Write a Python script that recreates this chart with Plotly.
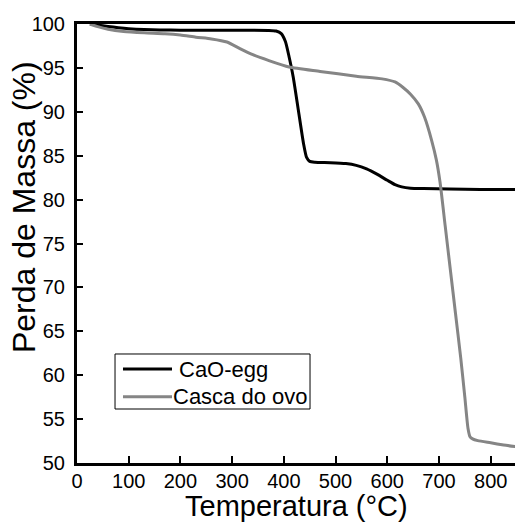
import plotly.graph_objects as go

# Thermogravimetric curves: mass (%) versus temperature (°C)
temp_cao = [25, 40, 60, 80, 100, 130, 160, 200, 300, 370, 385, 395, 403, 410, 418,
            428, 438, 444, 450, 460, 490, 520, 540, 560, 580, 600, 615, 628, 645,
            670, 720, 780, 850]
mass_cao = [100.0, 99.88, 99.72, 99.58, 99.47, 99.37, 99.32, 99.3, 99.28, 99.27, 99.2,
            98.9, 98.0, 96.3, 94.0, 90.2, 86.4, 84.8, 84.35, 84.25, 84.2, 84.1, 83.9,
            83.5, 82.9, 82.2, 81.7, 81.45, 81.3, 81.25, 81.2, 81.15, 81.15]

temp_casca = [25, 40, 60, 90, 130, 170, 200, 230, 260, 290, 315, 340, 370, 410, 470,
              540, 590, 615, 630, 645, 660, 672, 686, 695, 702, 712, 722, 732, 742,
              750, 756, 760, 765, 775, 800, 825, 850]
mass_casca = [100.0, 99.7, 99.4, 99.15, 99.0, 98.9, 98.75, 98.5, 98.3, 97.95, 97.2,
              96.5, 95.85, 95.1, 94.6, 94.05, 93.75, 93.4, 92.8, 92.0, 90.9, 89.4,
              86.7, 84.5, 82.0, 77.0, 72.0, 67.0, 62.0, 57.5, 54.0, 53.0, 52.75,
              52.55, 52.3, 52.05, 51.85]

x_ticks = [0, 100, 200, 300, 400, 500, 600, 700, 800]
y_ticks = [50, 55, 60, 65, 70, 75, 80, 85, 90, 95, 100]

series = [
    ("CaO-egg", temp_cao, mass_cao, "black"),
    ("Casca do ovo", temp_casca, mass_casca, "#858585"),
]

FONT = "Liberation Sans, Arial, sans-serif"

fig = go.Figure()
for name, t, m, color in series:
    fig.add_trace(go.Scatter(
        x=t, y=m, mode="lines", name=name, showlegend=False,
        line=dict(color=color, width=3, shape="spline", smoothing=0.6),
    ))

# Boxed legend in the lower-left part of the plot area (paper coordinates)
shapes = [dict(type="rect", xref="paper", yref="paper",
               x0=0.0868, x1=0.532, y0=0.123, y1=0.2483,
               line=dict(color="black", width=1), fillcolor="white", layer="above")]
annotations = []
entry_y = [0.2141, 0.151]
text_x = [0.2306, 0.2169]
for (name, _, _, color), yy, tx in zip(series, entry_y, text_x):
    shapes.append(dict(type="line", xref="paper", yref="paper",
                       x0=0.105, x1=0.2169, y0=yy, y1=yy,
                       line=dict(color=color, width=3), layer="above"))
    annotations.append(dict(text=name, xref="paper", yref="paper", x=tx, y=yy,
                            xanchor="left", yanchor="middle", showarrow=False,
                            borderpad=0,
                            font=dict(family=FONT, size=22, color="black")))

# Axis titles
annotations.append(dict(
    text="Perda de Massa (%)", textangle=-90,
    xref="paper", yref="paper", x=-0.121, y=0.583,
    xanchor="center", yanchor="middle", showarrow=False,
    font=dict(family=FONT, size=32, color="black"),
))
annotations.append(dict(
    text="Temperatura (°C)",
    xref="paper", yref="paper", x=0.502, y=-0.1367,
    xanchor="center", yanchor="bottom", showarrow=False, borderpad=0,
    font=dict(family=FONT, size=29, color="black"),
))

fig.update_layout(
    width=515, height=523,
    margin=dict(l=77, r=0, t=24, b=60),
    paper_bgcolor="white", plot_bgcolor="white",
    font=dict(family=FONT, color="black", size=20),
    showlegend=False,
    shapes=shapes,
    annotations=annotations,
)

fig.update_xaxes(
    range=[0, 847], tickvals=x_ticks, ticktext=[str(v) for v in x_ticks],
    showgrid=False, zeroline=False,
    showline=True, linecolor="black", linewidth=3, mirror=True,
    ticks="inside", ticklen=7, tickwidth=2, tickcolor="black",
    tickfont=dict(family=FONT, size=20), ticklabelstandoff=-2,
)
fig.update_yaxes(
    range=[50, 100], tickvals=y_ticks, ticktext=[str(v) for v in y_ticks],
    showgrid=False, zeroline=False,
    showline=True, linecolor="black", linewidth=3,
    ticks="inside", ticklen=6, tickwidth=2, tickcolor="black",
    tickfont=dict(family=FONT, size=20), ticklabelstandoff=5,
)

fig.write_html("out.html")
